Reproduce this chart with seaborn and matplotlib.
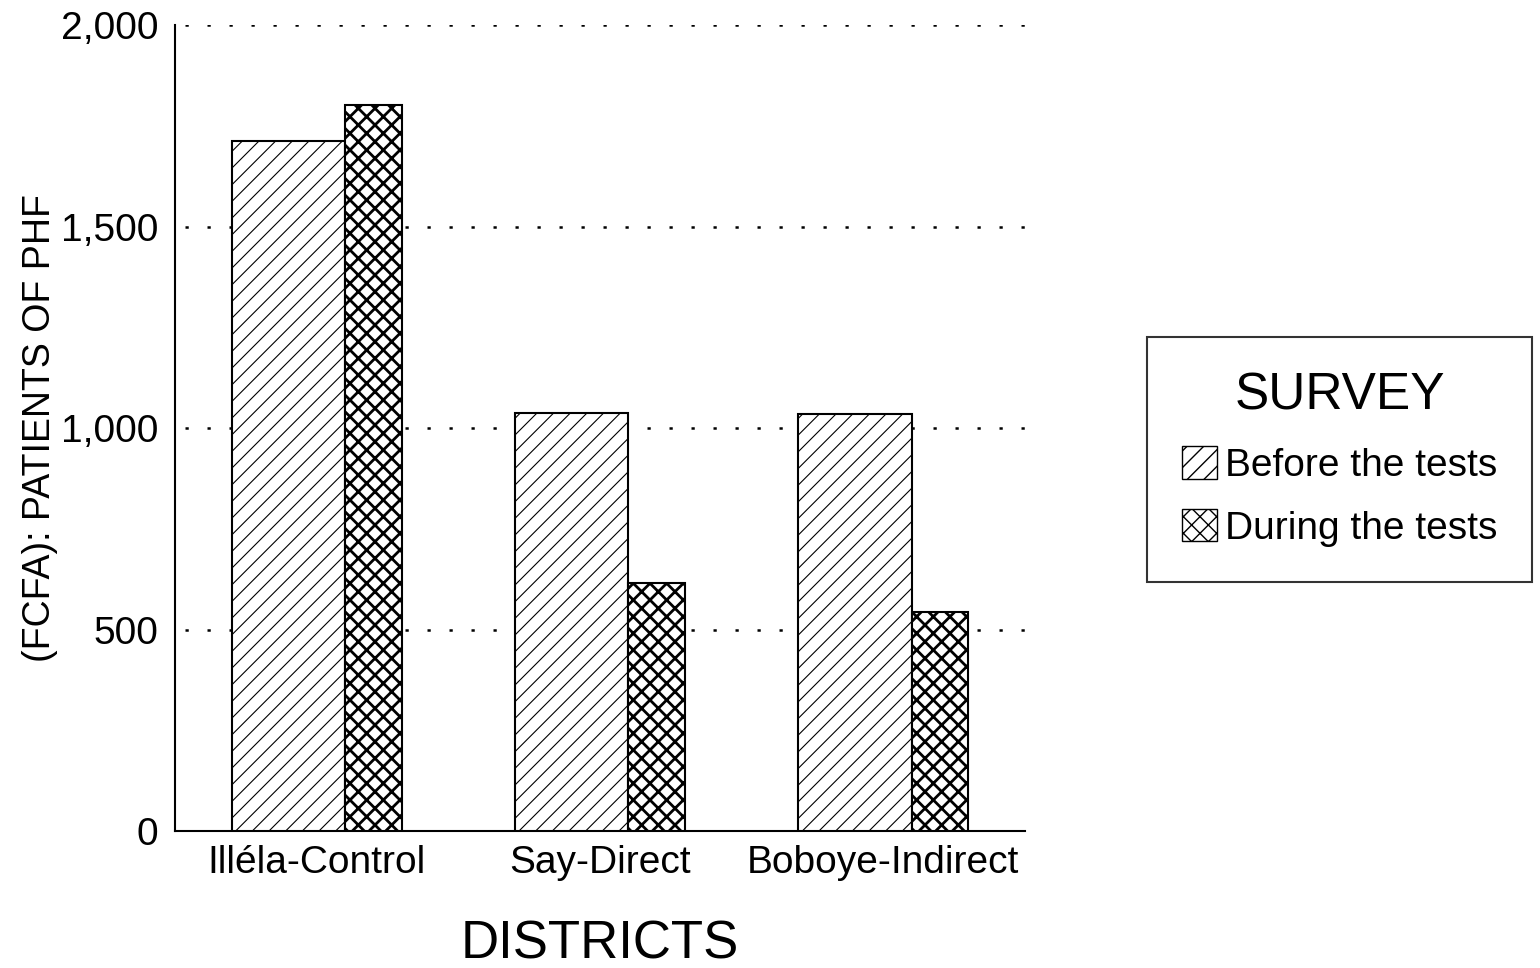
import matplotlib
matplotlib.use("Agg")
import matplotlib.pyplot as plt
import seaborn as sns
import pandas as pd
from matplotlib.patches import Patch

districts = ["Illéla-Control", "Say-Direct", "Boboye-Indirect"]
surveys = ["Before the tests", "During the tests"]
before_vals = [1712, 1037, 1035]
during_vals = [1801, 615, 543]
y_ticks = [0, 500, 1000, 1500, 2000]

sns.set_theme(style="white")
plt.rcParams['font.family'] = ['Liberation Sans', 'DejaVu Sans']
plt.rcParams['hatch.color'] = 'black'
plt.rcParams['text.color'] = 'black'
plt.rcParams['axes.labelcolor'] = 'black'
plt.rcParams['xtick.color'] = 'black'
plt.rcParams['ytick.color'] = 'black'

df = pd.DataFrame({
    "district": districts * 2,
    "survey": [surveys[0]] * 3 + [surveys[1]] * 3,
    "value": before_vals + during_vals,
})

fig = plt.figure(figsize=(15.4, 9.68), dpi=100)
ax = fig.add_axes([175/1540, (968-831)/968, (1025-175)/1540, (831-25)/968])

sns.barplot(data=df, x="district", y="value", hue="survey", order=districts,
            hue_order=surveys, palette=["white", "white"], width=0.6,
            edgecolor="black", linewidth=1.5, legend=False, ax=ax, zorder=3)

hatches = ["//", "xx"]
hlw = [0.8, 2.0]
for i, p in enumerate(ax.patches):
    h = i // 3
    c = i % 3
    p.set_hatch(hatches[h])
    if hasattr(p, "set_hatch_linewidth"):
        p.set_hatch_linewidth(hlw[h])
    p.set_zorder(3)
    if h == 0:
        p.set_x(c - 0.3)
        p.set_width(0.4)
    else:
        p.set_x(c + 0.1)
        p.set_width(0.2)

ax.set_xlim(-0.5, 2.5)
ax.set_ylim(0, 2000)
ax.set_yticks(y_ticks)
ax.set_yticklabels([f"{v:,}" for v in y_ticks])
ax.tick_params(axis="both", length=0, labelsize=28, colors="black")
ax.tick_params(axis="y", pad=12)
ax.tick_params(axis="x", pad=10)

for v in y_ticks[1:]:
    ax.axhline(v, xmin=0.012, color="black", linewidth=1.8, linestyle=(0, (1.3, 7.5)), zorder=1)

for s in ["top", "right"]:
    ax.spines[s].set_visible(False)
for s in ["left", "bottom"]:
    ax.spines[s].set_color("black")
    ax.spines[s].set_linewidth(1.5)

ax.set_xlabel("DISTRICTS", fontsize=38, labelpad=28)
ax.set_ylabel("(FCFA): PATIENTS OF PHF", fontsize=27, labelpad=2)

handles = [Patch(facecolor="white", edgecolor="black", hatch=hatches[0], label=surveys[0]),
           Patch(facecolor="white", edgecolor="black", hatch=hatches[1], label=surveys[1])]
leg = fig.legend(handles=handles, title="SURVEY", loc="upper left",
                 bbox_to_anchor=(1147/1540, 1 - 337/968), fontsize=28,
                 title_fontsize=37, frameon=True, fancybox=False,
                 edgecolor="black", handlelength=0.9, handleheight=0.9,
                 handletextpad=0.2, borderpad=0.9, labelspacing=0.65,
                 borderaxespad=0)
leg.get_frame().set_linewidth(1.5)
for t in leg.get_texts():
    t.set_color("black")
leg.get_title().set_color("black")

fig.savefig("out.png", dpi=100)
